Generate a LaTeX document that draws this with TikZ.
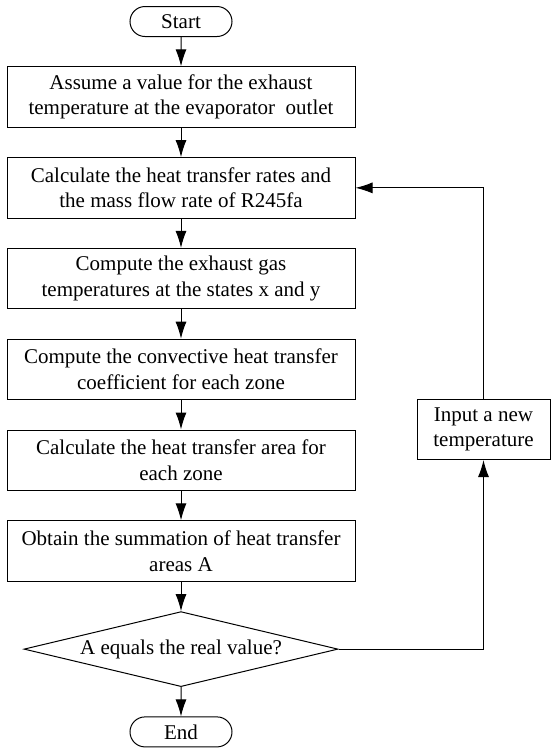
\documentclass[tikz,border=0pt]{standalone}
\usepackage{fontspec}
\setmainfont{Liberation Serif}
\usetikzlibrary{positioning,shapes.geometric,shapes.misc,arrows.meta}

\begin{document}
\begin{tikzpicture}[line width=1pt,>={Latex[length=17pt,width=11pt]},
  node distance=29.3pt,
  every node/.style={font=\fontsize{21}{25.5}\selectfont},
  proc/.style={draw,rectangle,minimum width=348pt,minimum height=60.5pt,align=center,inner sep=2pt},
  sideproc/.style={draw,rectangle,minimum width=133pt,minimum height=60pt,align=center,inner sep=2pt},
  term/.style={draw,rounded rectangle,minimum width=106pt,minimum height=30pt,inner sep=2pt},
  decide/.style={draw,diamond,aspect=4.2,minimum width=314pt,minimum height=75pt,inner sep=0pt}]
\useasboundingbox (0,0) rectangle (550pt,-748pt);
\node[term] (start) at (181pt,-21.5pt) {Start};
\node[proc,below=of start] (b1) {Assume a value for the exhaust\\temperature at the evaporator\ \ outlet};
\node[proc,below=of b1] (b2) {Calculate the heat transfer rates and\\the mass flow rate of R245fa};
\node[proc,below=of b2] (b3) {Compute the exhaust gas\\temperatures at the states x and y};
\node[proc,below=of b3] (b4) {Compute the convective heat transfer\\coefficient for each zone};
\node[proc,below=of b4] (b5) {Calculate the heat transfer area for\\each zone};
\node[proc,below=of b5] (b6) {Obtain the summation of heat transfer\\areas A};
\node[decide,below=of b6] (check) {A equals the real value?};
\node[term,below=of check] (end) {End};
\node[sideproc,right=61pt of b5.north east] (newtemp) {Input a new\\temperature};

\draw[->] (start) -- (b1);
\draw[->] (b1) -- (b2);
\draw[->] (b2) -- (b3);
\draw[->] (b3) -- (b4);
\draw[->] (b4) -- (b5);
\draw[->] (b5) -- (b6);
\draw[->] (b6) -- (check);
\draw[->] (check) -- (end);
\draw[->] (check.east) -| (newtemp.south);
\draw[->] (newtemp.north) |- (b2.east);
\end{tikzpicture}
\end{document}
